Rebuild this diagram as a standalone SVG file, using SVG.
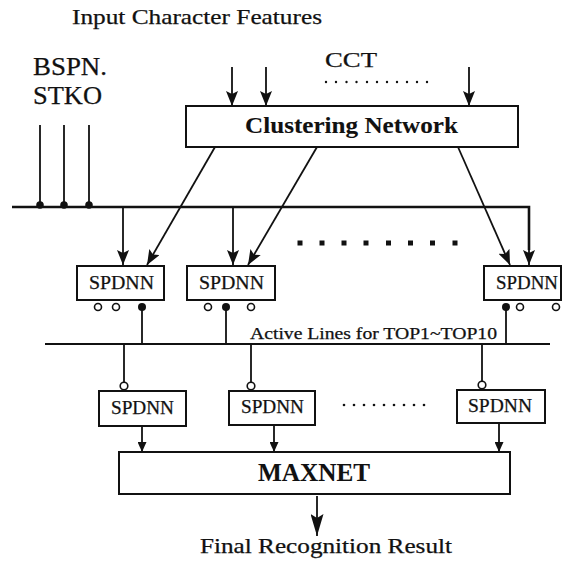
<svg xmlns="http://www.w3.org/2000/svg" width="562" height="563" viewBox="0 0 562 563">
<style>
  .box { fill: #fff; stroke: #111; stroke-width: 2; }
  .ln { fill: none; stroke: #111; stroke-width: 1.8; }
  .bus { fill: none; stroke: #111; stroke-width: 2.6; }
  .t { font-family: "Liberation Serif", "Times New Roman", serif; fill: #111; stroke: #111; stroke-width: 0.25; }
  .b { font-weight: bold; stroke-width: 0.1; }
  .oc { fill: #fff; stroke: #111; stroke-width: 1.6; }
  .fc { fill: #111; }
</style>
<defs>
  <marker id="ah" viewBox="0 0 15 12" refX="15" refY="6" markerWidth="15" markerHeight="12" markerUnits="userSpaceOnUse" orient="auto">
    <path d="M0,0 L15,6 L0,12 L3,6 z" fill="#111"/>
  </marker>
  <marker id="ahs" viewBox="0 0 10 9" refX="10" refY="4.5" markerWidth="10" markerHeight="9" markerUnits="userSpaceOnUse" orient="auto">
    <path d="M0,0 L10,4.5 L0,9 z" fill="#111"/>
  </marker>
  <marker id="ahb" viewBox="0 0 22 13" refX="22" refY="6.5" markerWidth="22" markerHeight="13" markerUnits="userSpaceOnUse" orient="auto">
    <path d="M0,0 L22,6.5 L0,13 L4,6.5 z" fill="#111"/>
  </marker>
</defs>

<g id="labels">
  <text class="t" x="72" y="24" font-size="22" textLength="250" lengthAdjust="spacingAndGlyphs">Input Character Features</text>
  <text class="t" x="33" y="75" font-size="25" textLength="74" lengthAdjust="spacingAndGlyphs">BSPN.</text>
  <text class="t" x="33" y="104" font-size="25" textLength="69" lengthAdjust="spacingAndGlyphs">STKO</text>
  <text class="t" x="325" y="67" font-size="22" textLength="52" lengthAdjust="spacingAndGlyphs">CCT</text>
  <text class="t" x="250" y="339" font-size="16" textLength="247" lengthAdjust="spacingAndGlyphs">Active Lines for TOP1~TOP10</text>
  <text class="t" x="200" y="553" font-size="21" textLength="252" lengthAdjust="spacingAndGlyphs">Final Recognition Result</text>
  <g id="cct-dots" class="fc">
    <circle cx="326" cy="82" r="1.2"/><circle cx="336" cy="82" r="1.2"/><circle cx="346.5" cy="82" r="1.2"/><circle cx="356.5" cy="82" r="1.2"/><circle cx="367" cy="82" r="1.2"/><circle cx="377" cy="82" r="1.2"/><circle cx="387" cy="82" r="1.2"/><circle cx="397" cy="82" r="1.2"/><circle cx="407" cy="82" r="1.2"/><circle cx="417" cy="82" r="1.2"/><circle cx="427" cy="82" r="1.2"/>
  </g>
  <g id="row1-dots" class="fc">
    <rect x="297.5" y="240.5" width="5" height="5"/><rect x="319.5" y="240.5" width="5" height="5"/><rect x="341.5" y="240.5" width="5" height="5"/><rect x="363.5" y="240.5" width="5" height="5"/><rect x="386" y="240.5" width="5" height="5"/><rect x="408" y="240.5" width="5" height="5"/><rect x="430" y="240.5" width="5" height="5"/><rect x="452.5" y="240.5" width="5" height="5"/>
  </g>
  <g id="row2-dots" class="fc">
    <circle cx="344" cy="405" r="1.3"/><circle cx="354" cy="405" r="1.3"/><circle cx="364" cy="405" r="1.3"/><circle cx="374" cy="405" r="1.3"/><circle cx="384" cy="405" r="1.3"/><circle cx="394" cy="405" r="1.3"/><circle cx="404" cy="405" r="1.3"/><circle cx="414" cy="405" r="1.3"/><circle cx="424" cy="405" r="1.3"/>
  </g>
</g>

<g id="connectors">
  <line class="ln" x1="232" y1="67" x2="232" y2="106" marker-end="url(#ah)"/>
  <line class="ln" x1="266" y1="67" x2="266" y2="106" marker-end="url(#ah)"/>
  <line class="ln" x1="469" y1="67" x2="469" y2="106" marker-end="url(#ah)"/>
  <line class="ln" x1="40" y1="125" x2="40" y2="207"/>
  <line class="ln" x1="64" y1="125" x2="64" y2="207"/>
  <line class="ln" x1="89" y1="125" x2="89" y2="207"/>
  <circle class="fc" cx="40" cy="205" r="3.8"/>
  <circle class="fc" cx="64" cy="205" r="3.8"/>
  <circle class="fc" cx="89" cy="205" r="3.8"/>
  <path class="bus" d="M12,207 H529 V250"/>
  <line class="ln" x1="529" y1="250" x2="529" y2="265" marker-end="url(#ah)"/>
  <line class="ln" x1="123" y1="207" x2="123" y2="265" marker-end="url(#ah)"/>
  <line class="ln" x1="233" y1="207" x2="233" y2="265" marker-end="url(#ah)"/>
  <line class="ln" x1="215" y1="147" x2="147" y2="265" marker-end="url(#ah)"/>
  <line class="ln" x1="317" y1="147" x2="248" y2="265" marker-end="url(#ah)"/>
  <line class="ln" x1="458" y1="147" x2="510" y2="265" marker-end="url(#ah)"/>
  <line class="ln" x1="142" y1="307" x2="142" y2="344"/>
  <line class="ln" x1="226" y1="307" x2="226" y2="344"/>
  <line class="ln" x1="506" y1="307" x2="506" y2="344"/>
  <line class="ln" x1="45" y1="344" x2="550" y2="344"/>
  <line class="ln" x1="124" y1="344" x2="124" y2="382"/>
  <line class="ln" x1="251" y1="344" x2="251" y2="382"/>
  <line class="ln" x1="482" y1="344" x2="482" y2="381"/>
  <line class="ln" x1="142" y1="426" x2="142" y2="452" marker-end="url(#ahs)"/>
  <line class="ln" x1="274" y1="425" x2="274" y2="452" marker-end="url(#ahs)"/>
  <line class="ln" x1="499" y1="423" x2="499" y2="452" marker-end="url(#ahs)"/>
  <line class="ln" x1="317" y1="496" x2="317" y2="536" stroke-width="2.2" marker-end="url(#ahb)"/>
</g>

<g id="clustering">
  <rect class="box" x="186" y="106" width="332" height="41"/>
  <text class="t b" x="245" y="133" font-size="23" textLength="213" lengthAdjust="spacingAndGlyphs">Clustering Network</text>
</g>

<g id="spdnn1">
  <rect class="box" x="77" y="266" width="87" height="34"/>
  <text class="t" x="89" y="289" font-size="18" textLength="65" lengthAdjust="spacingAndGlyphs">SPDNN</text>
  <circle class="oc" cx="98" cy="307" r="3.5"/>
  <circle class="oc" cx="116" cy="307" r="3.5"/>
  <circle class="fc" cx="142" cy="307" r="4"/>
</g>
<g id="spdnn2">
  <rect class="box" x="187" y="266" width="88" height="34"/>
  <text class="t" x="199" y="289" font-size="18" textLength="65" lengthAdjust="spacingAndGlyphs">SPDNN</text>
  <circle class="oc" cx="208" cy="307" r="3.5"/>
  <circle class="fc" cx="226" cy="307" r="4"/>
  <circle class="oc" cx="251" cy="307" r="3.5"/>
</g>
<g id="spdnn3">
  <rect class="box" x="484" y="266" width="77" height="34"/>
  <text class="t" x="496" y="289" font-size="18" textLength="62" lengthAdjust="spacingAndGlyphs">SPDNN</text>
  <circle class="fc" cx="506" cy="307" r="4"/>
  <circle class="oc" cx="520" cy="307" r="3.5"/>
  <circle class="oc" cx="556" cy="307" r="3.5"/>
</g>

<g id="spdnnA">
  <circle class="oc" cx="124" cy="386" r="3.8"/>
  <rect class="box" x="99" y="391" width="87" height="35"/>
  <text class="t" x="111" y="414" font-size="18" textLength="63" lengthAdjust="spacingAndGlyphs">SPDNN</text>
</g>
<g id="spdnnB">
  <circle class="oc" cx="251" cy="386" r="3.8"/>
  <rect class="box" x="229" y="391" width="86" height="34"/>
  <text class="t" x="241" y="413" font-size="18" textLength="63" lengthAdjust="spacingAndGlyphs">SPDNN</text>
</g>
<g id="spdnnC">
  <circle class="oc" cx="482" cy="385" r="3.8"/>
  <rect class="box" x="457" y="390" width="88" height="33"/>
  <text class="t" x="468" y="412" font-size="18" textLength="64" lengthAdjust="spacingAndGlyphs">SPDNN</text>
</g>

<g id="maxnet">
  <rect class="box" x="119" y="452" width="391" height="42"/>
  <text class="t b" x="258" y="481" font-size="25" textLength="112" lengthAdjust="spacingAndGlyphs">MAXNET</text>
</g>
</svg>
